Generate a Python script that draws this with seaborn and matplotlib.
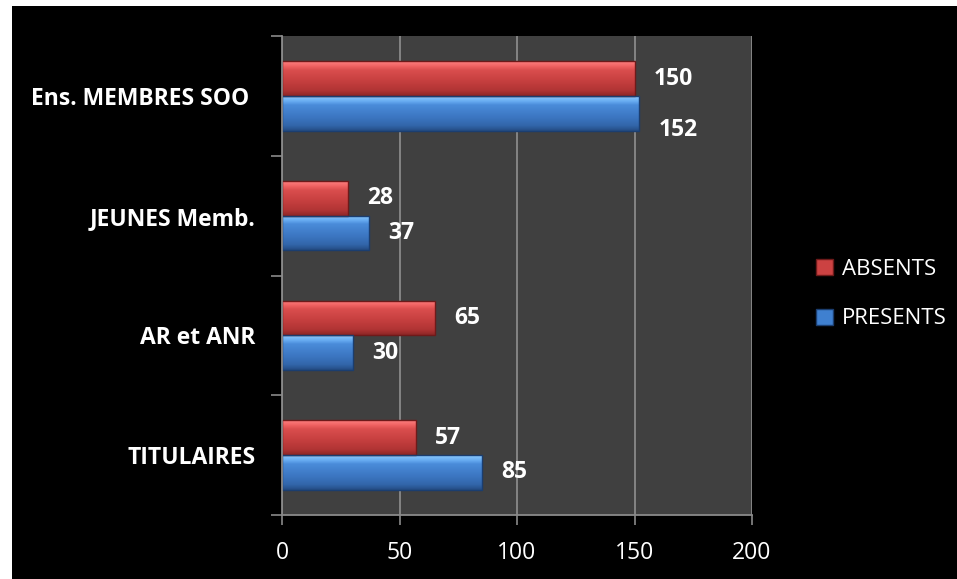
import numpy as np
import pandas as pd
import seaborn as sns
import matplotlib.pyplot as plt
from matplotlib.colors import to_rgb
from matplotlib.patches import Rectangle, Patch

# Data (categories from top to bottom)
categories = ["Ens. MEMBRES SOO ", "JEUNES Memb.", "AR et ANR", "TITULAIRES"]
series = ["ABSENTS", "PRESENTS"]
absents = [150, 28, 65, 57]
presents = [152, 37, 30, 85]
x_ticks = [0, 50, 100, 150, 200]

colors = {"ABSENTS": "#CC4242", "PRESENTS": "#3F80D0"}
edges = {"ABSENTS": "#6E1A1A", "PRESENTS": "#1B3E70"}
# bevel shading: (position from top, colour)
shades = {
    "ABSENTS": [(0.0, "#FF8080"), (0.15, "#EE6060"), (0.25, "#DA4E4E"),
                (0.6, "#C43E3E"), (0.85, "#B03434"), (1.0, "#8E2626")],
    "PRESENTS": [(0.0, "#8CCBFF"), (0.15, "#66AAF0"), (0.25, "#4A8CDA"),
                 (0.6, "#3C76C2"), (0.85, "#3266AA"), (1.0, "#244C84")],
}

df = pd.DataFrame({
    "categorie": categories * 2,
    "serie": ["ABSENTS"] * 4 + ["PRESENTS"] * 4,
    "valeur": absents + presents,
})


def gradient(stops, n=60):
    pos = np.linspace(0, 1, n)
    p = [s[0] for s in stops]
    cols = np.array([to_rgb(s[1]) for s in stops])
    rgb = np.stack([np.interp(pos, p, cols[:, k]) for k in range(3)], axis=1)
    return rgb[:, None, :]


sns.set_style("dark")
plt.rcParams["font.family"] = ["Open Sans", "DejaVu Sans"]

fig = plt.figure(figsize=(9.57, 5.79), dpi=100, facecolor="black")
# white strips at top and left (cropped slide)
fig.patches.append(Rectangle((0, 1 - 6 / 579), 1, 6 / 579, transform=fig.transFigure,
                             facecolor="white", edgecolor="none", zorder=5))
fig.patches.append(Rectangle((0, 0), 12 / 957, 1, transform=fig.transFigure,
                             facecolor="white", edgecolor="none", zorder=5))

ax = fig.add_axes([282 / 957, 1 - 515 / 579, 470 / 957, 479 / 579])
ax.set_facecolor("#404040")

sns.barplot(data=df, y="categorie", x="valeur", hue="serie", order=categories,
            hue_order=series, palette=colors, saturation=1, width=0.58, orient="h",
            legend=False, ax=ax)

for cont, s in zip(ax.containers, series):
    img = gradient(shades[s])
    for bar in cont:
        x0, y0 = bar.get_x(), bar.get_y()
        w, h = bar.get_width(), bar.get_height()
        im = ax.imshow(img, extent=(x0, x0 + w, y0 + h, y0), origin="upper",
                       aspect="auto", zorder=1.5, interpolation="bilinear")
        im.set_clip_path(bar)
        bar.set_facecolor("none")
        bar.set_edgecolor(edges[s])
        bar.set_linewidth(1.0)
        bar.set_zorder(2)
    labels = [f"{int(v)}" for v in cont.datavalues]
    texts = ax.bar_label(cont, labels=labels, padding=14, color="white",
                         fontsize=16.5, fontweight="bold")
    # Excel pushes the top-group blue label down to avoid overlap
    if s == "PRESENTS":
        t = texts[0]
        x, y = t.xyann
        t.xyann = (x, y - 12)

ax.set_xlim(0, 200)
ax.set_ylim(3.5, -0.5)
ax.set_xticks(x_ticks)
ax.set_xticklabels([str(v) for v in x_ticks])
ax.set_yticks(range(len(categories)))
ax.set_yticklabels(categories, fontweight="bold")
ax.set_yticks([-0.5, 0.5, 1.5, 2.5, 3.5], minor=True)
ax.set_xlabel("")
ax.set_ylabel("")

ax.xaxis.grid(True, color="#8a8a8a", linewidth=1.3)
ax.yaxis.grid(False)
ax.set_axisbelow(True)

ax.tick_params(axis="y", which="major", length=0, pad=19, labelsize=16.5, colors="white")
ax.tick_params(axis="y", which="minor", length=8, width=1.2, color="#8a8a8a", left=True)
ax.tick_params(axis="x", length=7, width=1.2, color="#8a8a8a", pad=12,
               labelsize=16.5, labelcolor="white", bottom=True)

for side in ["top", "right"]:
    ax.spines[side].set_visible(False)
for side in ["left", "bottom"]:
    ax.spines[side].set_visible(True)
    ax.spines[side].set_color("#8a8a8a")
    ax.spines[side].set_linewidth(1.3)

handles = [Patch(facecolor=colors[s], edgecolor=edges[s]) for s in series]
fig.legend(handles, series, loc="center left", bbox_to_anchor=(796 / 957, 1 - 294 / 579),
           frameon=False, fontsize=16, labelcolor="white", labelspacing=1.3,
           handlelength=0.75, handleheight=0.75, handletextpad=0.4)

fig.savefig("out.png", dpi=100, facecolor="black")
